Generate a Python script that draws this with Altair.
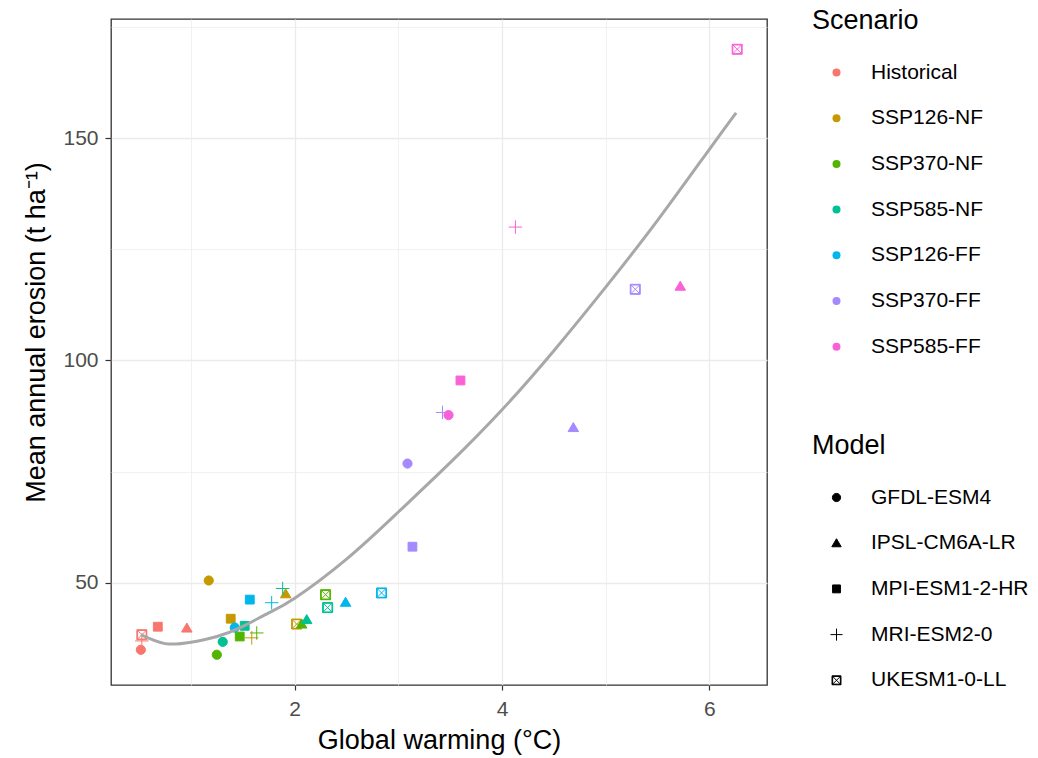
import altair as alt
import pandas as pd

scenarios = ["Historical", "SSP126-NF", "SSP370-NF", "SSP585-NF",
             "SSP126-FF", "SSP370-FF", "SSP585-FF"]
models = ["GFDL-ESM4", "IPSL-CM6A-LR", "MPI-ESM1-2-HR", "MRI-ESM2-0", "UKESM1-0-LL"]
colors = ["#F8766D", "#C49A00", "#53B400", "#00C094", "#00B6EB", "#A58AFF", "#FB61D7"]

# values per scenario, in model order (GFDL, IPSL, MPI, MRI, UKESM)
warm_hist = [0.516, 0.960, 0.680, 0.526, 0.526]
eros_hist = [34.9, 39.8, 40.1, 36.9, 38.3]
warm_126nf = [1.171, 1.913, 1.383, 1.586, 2.019]
eros_126nf = [50.5, 47.5, 41.9, 37.6, 40.7]
warm_370nf = [1.249, 2.067, 1.470, 1.634, 2.298]
eros_370nf = [33.8, 40.7, 37.9, 38.7, 47.3]
warm_585nf = [1.306, 2.116, 1.518, 1.884, 2.318]
eros_585nf = [36.7, 41.7, 40.3, 48.7, 44.4]
warm_126ff = [1.422, 2.491, 1.567, 1.778, 2.838]
eros_126ff = [39.9, 45.6, 46.2, 45.5, 47.7]
warm_370ff = [3.088, 4.688, 3.136, 3.426, 5.285]
eros_370ff = [76.8, 84.9, 58.1, 88.3, 116.0]
warm_585ff = [3.484, 5.719, 3.599, 4.129, 6.268]
eros_585ff = [87.7, 116.7, 95.5, 130.0, 170.0]

# smoothed trend
smooth_x = [0.516, 0.75, 1.0, 1.25, 1.5, 1.75, 2.0, 2.5, 3.0, 3.5,
            4.0, 4.5, 5.0, 5.5, 6.0, 6.258]
smooth_y = [38.3, 36.3, 36.6, 37.9, 40.2, 43.2, 46.5, 55.3, 65.9, 77.0,
            88.9, 102.2, 116.5, 131.5, 147.5, 155.7]

warm_all = [warm_hist, warm_126nf, warm_370nf, warm_585nf, warm_126ff, warm_370ff, warm_585ff]
eros_all = [eros_hist, eros_126nf, eros_370nf, eros_585nf, eros_126ff, eros_370ff, eros_585ff]

rows = []
for s, ws, es in zip(scenarios, warm_all, eros_all):
    for m, w, e in zip(models, ws, es):
        rows.append({"scenario": s, "model": m, "warming": w, "erosion": e})
df = pd.DataFrame(rows)
curve = pd.DataFrame({"warming": smooth_x, "erosion": smooth_y})

# ggplot-like 5% expansion
xs = list(df["warming"]) + smooth_x
ys = list(df["erosion"]) + smooth_y
xr = max(xs) - min(xs)
yr = max(ys) - min(ys)
x_dom = [min(xs) - 0.05 * xr, max(xs) + 0.05 * xr]
y_dom = [min(ys) - 0.05 * yr, max(ys) + 0.05 * yr]

shape_paths = [
    "M0.92,0A0.92,0.92,0,1,1,-0.92,0A0.92,0.92,0,1,1,0.92,0Z",
    "M0,-1L1.05,0.8L-1.05,0.8Z",
    "M-0.88,-0.88H0.88V0.88H-0.88Z",
    "M-1.35,0H1.35M0,-1.35V1.35",
    "M-1,-1H1V1H-1Z M-0.86,-0.86V0.86H0.86V-0.86Z M-0.9,-0.9L0.9,0.9M-0.9,0.9L0.9,-0.9",
]

FONT = "Liberation Sans"

x_axis = alt.Axis(
    values=[1, 2, 3, 4, 5, 6],
    labelExpr="datum.value % 2 === 0 ? datum.label : ''",
    grid=True, gridColor="#EBEBEB",
    gridWidth={"condition": {"test": "datum.value % 2 === 0", "value": 1.3}, "value": 0.7},
    tickOpacity={"condition": {"test": "datum.value % 2 === 0", "value": 1}, "value": 0},
    tickColor="#333333", tickSize=5, tickWidth=1.2, domain=False,
    labelFontSize=21, labelColor="#4D4D4D", labelPadding=8, labelOverlap=False,
    titleFontSize=27, titleFontWeight="normal", titleColor="black",
    titleY=63, titleBaseline="alphabetic",
)
y_axis = alt.Axis(
    values=[50, 75, 100, 125, 150, 175],
    labelExpr="datum.value % 50 === 0 ? datum.label : ''",
    grid=True, gridColor="#EBEBEB",
    gridWidth={"condition": {"test": "datum.value % 50 === 0", "value": 1.3}, "value": 0.7},
    tickOpacity={"condition": {"test": "datum.value % 50 === 0", "value": 1}, "value": 0},
    tickColor="#333333", tickSize=6, tickWidth=1.2, domain=False,
    labelFontSize=21, labelColor="#4D4D4D", labelPadding=7, labelOverlap=False,
    titleFontSize=27, titleFontWeight="normal", titleColor="black",
    titleX=-67, titleY=313, titleBaseline="alphabetic", titleAngle=270, titleAlign="center",
)

x_enc = alt.X("warming:Q", title="Global warming (°C)",
              scale=alt.Scale(domain=x_dom, nice=False, zero=False), axis=x_axis)
y_enc = alt.Y("erosion:Q", title="Mean annual erosion (t ha⁻¹)",
              scale=alt.Scale(domain=y_dom, nice=False, zero=False), axis=y_axis)

points = alt.Chart(df).mark_point(filled=True, size=100, strokeWidth=1, opacity=1).encode(
    x=x_enc, y=y_enc,
    fill=alt.Fill("scenario:N", scale=alt.Scale(domain=scenarios, range=colors),
                  legend=alt.Legend(title="Scenario", orient="none", legendX=701, legendY=-11,
                                    symbolType="circle", symbolSize=64, symbolStrokeWidth=0,
                                    symbolOffset=14, labelOffset=24, padding=0,
                                    titleFontSize=27, titleFontWeight="normal", titleColor="black",
                                    labelFontSize=21, labelColor="black",
                                    rowPadding=23.7, titlePadding=27)),
    stroke=alt.Stroke("scenario:N", scale=alt.Scale(domain=scenarios, range=colors), legend=None),
    shape=alt.Shape("model:N", scale=alt.Scale(domain=models, range=shape_paths),
                    legend=alt.Legend(title="Model", orient="none", legendX=701, legendY=414,
                                      symbolSize=80, symbolFillColor="black",
                                      symbolStrokeColor="black", symbolStrokeWidth=1,
                                      symbolOffset=14, labelOffset=24, padding=0,
                                      titleFontSize=27, titleFontWeight="normal", titleColor="black",
                                      labelFontSize=21, labelColor="black",
                                      rowPadding=23.7, titlePadding=27)),
)

line = alt.Chart(curve).mark_line(color="#A8A8A8", strokeWidth=3, interpolate="natural").encode(
    x=x_enc, y=y_enc,
)

chart = alt.layer(points, line).properties(
    width=656, height=666,
    autosize=alt.AutoSizeParams(type="none"),
    padding={"left": 111, "top": 19, "right": 271, "bottom": 73},
    background="white",
).configure(font=FONT).configure_view(stroke="#333333", strokeWidth=1.3)

chart.save("out.html", embed_options={"renderer": "svg", "actions": False})
